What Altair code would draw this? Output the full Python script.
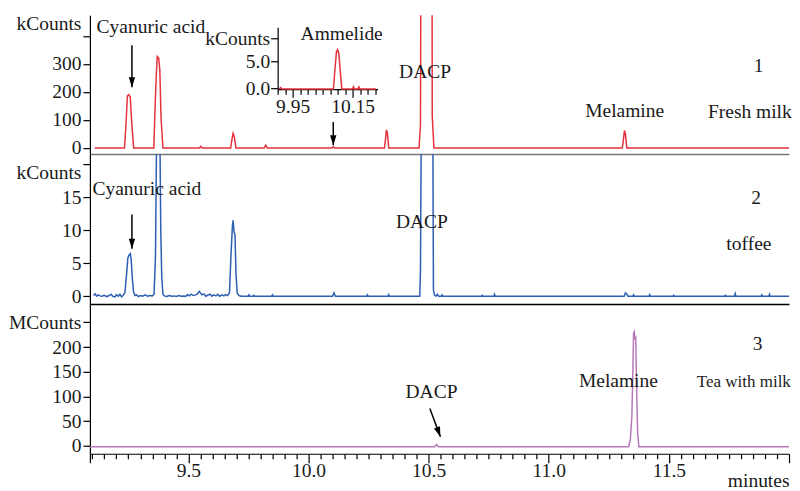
import altair as alt
import pandas as pd

FONT = "Liberation Serif"
FS = 19.5
INK = "#1a1a1a"
XDOM = [9.09, 12.0]

# ---------------- Trace 1: fresh milk (kCounts) ----------------
t1 = [9.110, 9.234, 9.240, 9.246, 9.252, 9.258, 9.264, 9.272,
      9.356, 9.362, 9.366, 9.370, 9.376, 9.381, 9.386, 9.394,
      9.546, 9.552, 9.558,
      9.676, 9.682, 9.686, 9.691, 9.698,
      9.815, 9.822, 9.829,
      10.097, 10.103, 10.109,
      10.316, 10.321, 10.324, 10.328, 10.334,
      10.460, 10.466, 10.475, 10.511, 10.515, 10.522,
      11.306, 11.311, 11.315, 11.319, 11.325,
      12.000]
v1 = [-1, -1, 80, 185, 190, 182, 90, -1,
      -1, 160, 250, 327, 322, 280, 110, -1,
      -1, 5, -1,
      -1, 35, 52, 40, -1,
      -1, 9, -1,
      -1, 4, -1,
      -1, 35, 64, 55, -1,
      -1, 80, 3000, 3000, 116, -1,
      -1, 30, 62, 50, -1,
      -1]

# inset (Ammelide, kCounts)
ti = [9.905, 9.910, 9.915, 10.086, 10.091, 10.096, 10.100, 10.104, 10.109, 10.114,
      10.150, 10.153, 10.156, 10.168, 10.171, 10.174, 10.228]
vi = [-0.15, 0.1, -0.15, -0.15, 3.5, 6.8, 7.2, 6.5, 3.0, -0.15,
      -0.15, 0.25, -0.15, -0.15, 0.2, -0.15, -0.15]

# ---------------- Trace 2: toffee (kCounts) ----------------
t2 = [9.105, 9.112, 9.118, 9.125, 9.132, 9.140, 9.150, 9.160, 9.170, 9.178,
      9.185, 9.195, 9.200, 9.208, 9.215, 9.222, 9.230,
      9.236, 9.243, 9.248, 9.254, 9.258, 9.262, 9.267, 9.272,
      9.278, 9.285, 9.292, 9.300, 9.310, 9.320, 9.330, 9.340, 9.350,
      9.357, 9.363, 9.369, 9.380, 9.385, 9.389, 9.394,
      9.400, 9.410, 9.420, 9.430, 9.440, 9.450, 9.460, 9.470, 9.480, 9.490,
      9.496, 9.503, 9.512, 9.520, 9.530, 9.538, 9.545, 9.550, 9.556, 9.565,
      9.572, 9.580, 9.590, 9.598, 9.605, 9.615, 9.622, 9.630, 9.640, 9.648,
      9.655, 9.663,
      9.671, 9.677, 9.683, 9.686, 9.690, 9.694, 9.698, 9.703, 9.710,
      9.720, 9.749, 9.752, 9.755, 9.770, 9.773, 9.776, 9.847, 9.850, 9.853,
      10.100, 10.106, 10.112, 10.242, 10.245, 10.248, 10.331, 10.334, 10.337,
      10.463, 10.466, 10.470, 10.517, 10.520, 10.524, 10.530, 10.536, 10.542,
      10.553, 10.556, 10.560, 10.720, 10.723, 10.726, 10.771, 10.774, 10.777,
      11.314, 11.319, 11.325, 11.330, 11.350, 11.353, 11.356,
      11.417, 11.420, 11.423, 11.517, 11.520, 11.523,
      11.732, 11.735, 11.738, 11.773, 11.776, 11.779,
      11.884, 11.887, 11.890, 11.916, 11.919, 11.922, 12.000]
v2 = [0.1, 0.35, 0.0, 0.2, 0.05, 0.0, 0.15, -0.05, 0.1, 0.3,
      0.0, -0.1, 0.25, 0.0, 0.3, -0.1, 0.2,
      0.6, 3.5, 5.8, 6.3, 6.45, 5.5, 2.5, 0.6,
      0.1, 0.2, -0.05, 0.1, 0.0, 0.2, 0.0, 0.1, 0.05,
      0.3, 6.0, 30, 30, 10, 3, 0.3,
      0.05, -0.05, 0.1, 0.0, 0.05, -0.05, 0.1, 0.0, 0.05, 0.0,
      0.25, 0.05, 0.3, 0.1, 0.2, 0.35, 0.75, 0.5, 0.2, 0.35,
      0.0, 0.15, 0.3, 0.0, 0.2, 0.05, 0.3, 0.0, 0.2, 0.05,
      0.25, 0.1,
      0.5, 6.0, 10.5, 11.5, 9.8, 9.3, 3.5, 0.5, 0.1,
      0.0, 0.0, 0.2, 0.0, 0.0, 0.15, 0.0, 0.0, 0.2, 0.0,
      0.0, 0.5, 0.0, 0.0, 0.2, 0.0, 0.0, 0.25, 0.0,
      0.0, 4.0, 30, 30, 1.0, 0.2, 0.0, 0.3, 0.0,
      0.0, 0.2, 0.0, 0.0, 0.15, 0.0, 0.0, 0.3, 0.0,
      0.0, 0.5, 0.3, 0.0, 0.0, 0.2, 0.0,
      0.0, 0.25, 0.0, 0.0, 0.15, 0.0,
      0.0, 0.15, 0.0, 0.0, 0.4, 0.0,
      0.0, 0.2, 0.0, 0.0, 0.3, 0.0, 0.0]

# ---------------- Trace 3: tea with milk (MCounts) ----------------
t3 = [9.090, 10.525, 10.533, 10.541,
      11.333, 11.340, 11.346, 11.350, 11.353, 11.356, 11.359, 11.362, 11.366, 11.370, 11.375,
      12.000]
v3 = [-2, -2, 2.5, -2,
      -2, 15, 60, 150, 228, 231, 215, 222, 110, 25, -2,
      -2]

# ---------------- annotations ----------------
p1_text = ["Cyanuric acid", "DACP", "Melamine", "1", "Fresh milk", "Ammelide"]
p1_tx = [9.344, 10.485, 11.316, 11.873, 11.837, 10.138]
p1_ty = [431, 270, 131, 294, 127.5, 407]
p1_arrows = {"x0": [9.265, 10.103], "y0": [367, 92], "x1": [9.265, 10.103], "y1": [217, 9], "ang": [0, 0]}

p2_text = ["Cyanuric acid", "DACP", "2", "toffee"]
p2_tx = [9.327, 10.472, 11.863, 11.833]
p2_ty = [16.3, 11.26, 14.94, 7.97]
p2_arrows = {"x0": [9.265], "y0": [12.4], "x1": [9.265], "y1": [7.2], "ang": [0]}

p3_text = ["DACP", "Melamine", "3", "Tea with milk"]
p3_tx = [10.512, 11.290, 11.869, 11.812]
p3_ty = [108, 131, 207, 129.6]
p3_arrows = {"x0": [10.505], "y0": [75.5], "x1": [10.549], "y1": [18.2], "ang": [340]}

# tick values
x_ticks = [9.09] + [round(9.10 + 0.05 * k, 2) for k in range(58)] + [12.0]
inset_x_ticks = [round(9.90 + 0.025 * k, 3) for k in range(14)]
p1_yticks = [0, 100, 200, 300, 400]
p2_yticks = [0, 5, 10, 15, 20]
p3_yticks = [0, 50, 100, 150, 200, 250]
inset_yticks = [0, 5, 9.3]

ARROW = "M-0.32,-1L0.32,-1L0,0Z"


def yaxis(vals, top_val, top_label, off):
    return alt.Axis(values=vals, title=None, grid=False, orient="left",
                    labelExpr=f"datum.value == {top_val} ? '{top_label}' : datum.label",
                    labelOffset={"condition": {"test": f"datum.value == {top_val}", "value": off}, "value": 0},
                    tickSize=7, labelPadding=2, labelFont=FONT, labelFontSize=FS, labelColor=INK,
                    domainColor="black", tickColor="black", domainWidth=1.2, tickWidth=1.2,
                    minExtent=81, maxExtent=81, labelOverlap=False)


def sep_axis(color):
    return alt.Axis(title=None, grid=False, labels=False, ticks=False, orient="bottom",
                    domainColor=color, domainWidth=1.5)


def panel(t, v, color, ydom, yax, xax, texts, tx, ty, arrows):
    xs = alt.Scale(domain=XDOM, nice=False, zero=False)
    ys = alt.Scale(domain=ydom, nice=False, zero=False)
    line = alt.Chart(pd.DataFrame({"t": t, "v": v})).mark_line(
        color=color, strokeWidth=1.5, clip=True).encode(
        x=alt.X("t:Q", scale=xs, axis=xax), y=alt.Y("v:Q", scale=ys, axis=yax))
    txt = alt.Chart(pd.DataFrame({"x": tx, "y": ty, "s": texts})).mark_text(
        font=FONT, color=INK, baseline="middle", align="center").encode(
        x=alt.X("x:Q", scale=xs, axis=xax), y=alt.Y("y:Q", scale=ys, axis=yax), text="s:N",
        size=alt.condition(alt.datum.s == "Tea with milk", alt.value(17), alt.value(FS)))
    adf = pd.DataFrame(arrows)
    rules = alt.Chart(adf).mark_rule(color="black", strokeWidth=1.5).encode(
        x=alt.X("x0:Q", scale=xs, axis=xax), y=alt.Y("y0:Q", scale=ys, axis=yax),
        x2="x1:Q", y2="y1:Q")
    heads = alt.Chart(adf).mark_point(shape=ARROW, filled=True, size=400, color="black",
                                      opacity=1, strokeWidth=0).encode(
        x=alt.X("x1:Q", scale=xs, axis=xax), y=alt.Y("y1:Q", scale=ys, axis=yax),
        angle=alt.Angle("ang:Q", scale=None))
    return alt.layer(line, txt, rules, heads)


major_test = "abs(datum.value*2 - round(datum.value*2)) < 0.001"
label_test = f"({major_test}) && datum.value < 11.99"
long_test = f"({major_test}) || datum.value < 9.095"
bottom_axis = alt.Axis(values=x_ticks, orient="bottom", grid=False,
                       labelExpr=f"{label_test} ? format(datum.value, '.1f') : ''",
                       tickSize={"condition": {"test": long_test, "value": 9}, "value": 5},
                       labelPadding=-1, labelFont=FONT, labelFontSize=FS, labelColor=INK,
                       labelOverlap=False, labelFlush=False,
                       domainColor="black", tickColor="black", domainWidth=1.2, tickWidth=1.2,
                       title="minutes", titleFont=FONT, titleFontSize=FS, titleFontWeight="normal",
                       titleColor=INK, titleAnchor="end", titleBaseline="alphabetic", titleY=33)

p1_main = panel(t1, v1, "#e5323c", [-22.5, 474], yaxis(p1_yticks, 400, "kCounts", -12),
                sep_axis("#777777"), p1_text, p1_tx, p1_ty, p1_arrows)

inset_test = "abs(datum.value-9.95)<0.001 || abs(datum.value-10.15)<0.001"
inset = alt.Chart(pd.DataFrame({"t": ti, "v": vi})).mark_line(color="#e5323c", strokeWidth=1.5).encode(
    x=alt.X("t:Q", scale=alt.Scale(domain=[9.90, 10.233], range=[188, 288], nice=False, zero=False),
            axis=alt.Axis(values=inset_x_ticks, orient="bottom", offset=-65, grid=False, title=None,
                          labelExpr=f"({inset_test}) ? format(datum.value, '.2f') : ''",
                          tickSize={"condition": {"test": inset_test, "value": 8}, "value": 5},
                          labelPadding=0, labelFont=FONT, labelFontSize=FS, labelColor=INK,
                          labelOverlap=False, labelFlush=False,
                          domainColor="black", tickColor="black", domainWidth=1.2, tickWidth=1.2)),
    y=alt.Y("v:Q", scale=alt.Scale(domain=[-0.2, 11.4], range=[74, 12], nice=False, zero=False),
            axis=alt.Axis(values=inset_yticks, orient="left", offset=-188, grid=False, title=None,
                          labelExpr="datum.value > 9 ? 'kCounts' : format(datum.value, '.1f')",
                          tickSize=7, labelPadding=1, labelFont=FONT, labelFontSize=FS, labelColor=INK,
                          labelOverlap=False,
                          domainColor="black", tickColor="black", domainWidth=1.2, tickWidth=1.2)),
)

p1 = alt.layer(p1_main, inset).resolve_scale(x="independent", y="independent").properties(
    width=700, height=139)

p2 = panel(t2, v2, "#2f5fb3", [-1.17, 21.56], yaxis(p2_yticks, 20, "kCounts", 8),
           sep_axis("black"), p2_text, p2_tx, p2_ty, p2_arrows).properties(width=700, height=150)

p3 = panel(t3, v3, "#b779b9", [-16.2, 287.4], yaxis(p3_yticks, 250, "MCounts", 0),
           bottom_axis, p3_text, p3_tx, p3_ty, p3_arrows).properties(width=700, height=150)

chart = alt.vconcat(p1, p2, p3, spacing=0, bounds="flush").properties(
    padding={"left": 0, "top": 5, "right": 0, "bottom": 0},
    background="white",
).configure_view(stroke=None)

chart.save("out.html", embed_options={"renderer": "svg", "actions": False})
